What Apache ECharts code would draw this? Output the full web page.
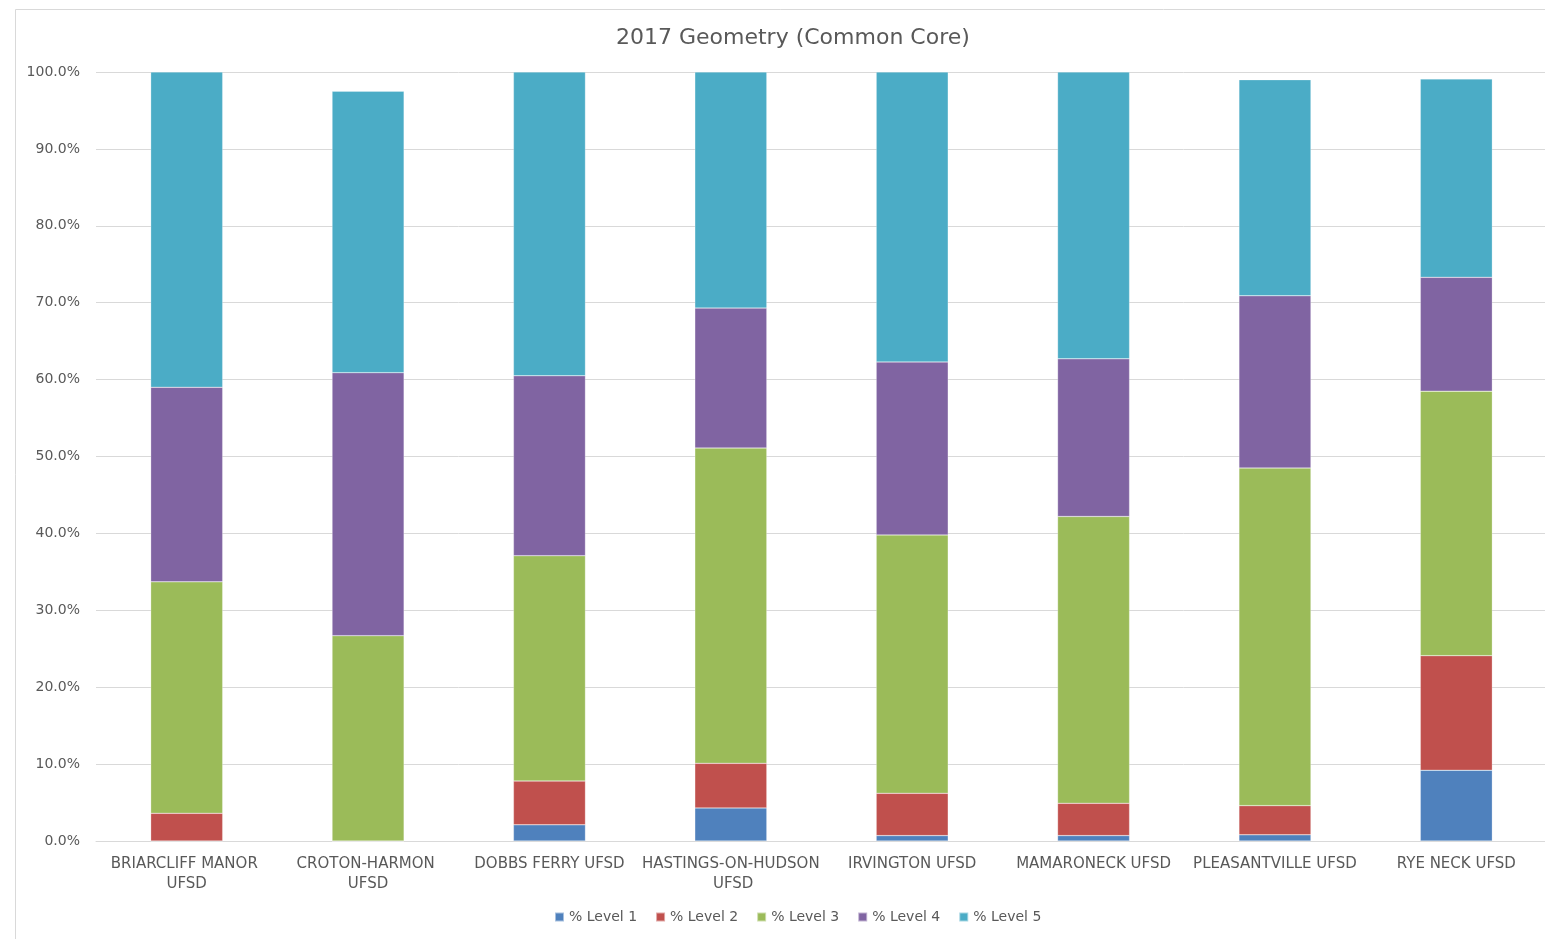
<!DOCTYPE html>
<html>
<head>
<meta charset="utf-8">
<script src="https://cdn.jsdelivr.net/npm/echarts@6/dist/echarts.min.js"></script>
<style>
html,body{margin:0;padding:0;background:#fff;}
#chart{width:1545px;height:939px;}
</style>
</head>
<body>
<div id="chart"></div>
<script>
const titleText = '2017 Geometry (Common Core)';
const categories = ['BRIARCLIFF MANOR UFSD','CROTON-HARMON UFSD','DOBBS FERRY UFSD','HASTINGS-ON-HUDSON UFSD','IRVINGTON UFSD','MAMARONECK UFSD','PLEASANTVILLE UFSD','RYE NECK UFSD'];
const seriesNames = ['% Level 1','% Level 2','% Level 3','% Level 4','% Level 5'];
const level1 = [0.0, 0.0, 2.1, 4.3, 0.7, 0.7, 0.8, 9.2];
const level2 = [3.6, 0.0, 5.7, 5.8, 5.5, 4.2, 3.8, 14.9];
const level3 = [30.1, 26.7, 29.3, 41.0, 33.6, 37.3, 43.9, 34.4];
const level4 = [25.3, 34.2, 23.4, 18.2, 22.5, 20.5, 22.4, 14.8];
const level5 = [41.0, 36.6, 39.5, 30.7, 37.7, 37.3, 28.1, 25.8];
const colors = ['#4F81BD','#C0504D','#9BBB59','#8064A2','#4BACC6'];

const allLevels = [level1, level2, level3, level4, level5];
const font = "'DejaVu Sans', 'Open Sans', sans-serif";

const chart = echarts.init(document.getElementById('chart'), null, {renderer:'canvas'});
chart.setOption({
  animation:false,
  backgroundColor:'#fff',
  color: colors,
  graphic:[{type:'rect', left:13, top:7, shape:{width:1600, height:1000}, style:{fill:'none', stroke:'#d9d9d9', lineWidth:1}, silent:true, z:-1}],
  title:{text:titleText, left:611, top:22, textStyle:{fontFamily:font, fontSize:22, fontWeight:'normal', color:'#595959'}},
  legend:{data:seriesNames, bottom:10, left:549, itemWidth:9, itemHeight:9, itemGap:18, icon:'rect',
    textStyle:{fontFamily:font, fontSize:14, color:'#595959'}},
  grid:{left:96, top:72, width:1451, height:769, containLabel:false, outerBoundsMode:'none'},
  xAxis:{type:'category', data:categories,
    axisLine:{lineStyle:{color:'#d9d9d9', width:1}}, axisTick:{show:false},
    axisLabel:{fontFamily:font, fontSize:15, color:'#595959', margin:13, interval:0, width:180, overflow:'break', lineHeight:20}},
  yAxis:{type:'value', min:0, max:100, interval:10,
    axisLine:{show:false}, axisTick:{show:false},
    splitLine:{lineStyle:{color:'#d9d9d9', width:1}},
    axisLabel:{fontFamily:font, fontSize:14, color:'#595959', margin:16, formatter:v=>v.toFixed(1)+'%'}},
  series: seriesNames.map((n,i)=>({name:n, type:'bar', stack:'total', data:allLevels[i], barWidth:72,
    itemStyle:{color:colors[i], borderColor:'rgba(255,255,255,0.5)', borderWidth:0.5}}))
});
</script>
</body>
</html>
